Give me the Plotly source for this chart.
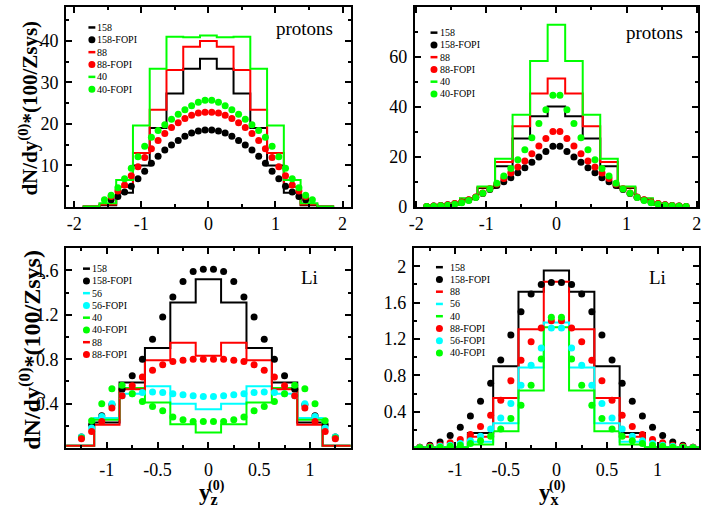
import numpy as np
import plotly.graph_objects as go

W, H = 708, 513
FONT = "Liberation Serif"
BLACK, RED, GREEN, CYAN = "#000000", "#ff0000", "#00ff00", "#00ffff"

# ---------------- data ----------------
# top-left: protons vs y_z
tl_bins = [-1.75, -1.5, -1.25, -1.0, -0.75, -0.5, -0.25, 0.0, 0.25, 0.5, 0.75, 1.0, 1.25, 1.5, 1.75]
tl_h158 = [0.1, 0.4, 3.4, 10.0, 19.0, 27.3, 33.3, 35.7, 33.3, 27.3, 19.0, 10.0, 3.4, 0.4, 0.1]
tl_h88 = [0.1, 0.6, 4.8, 13.0, 23.4, 33.0, 38.6, 40.0, 38.6, 33.0, 23.4, 13.0, 4.8, 0.6, 0.1]
tl_h40 = [0.1, 0.9, 6.5, 19.6, 33.3, 41.0, 40.9, 41.3, 40.9, 41.0, 33.3, 19.6, 6.5, 0.9, 0.1]
tl_fx = [-1.45, -1.35, -1.25, -1.15, -1.05, -0.95, -0.85, -0.75, -0.65, -0.55, -0.45, -0.35, -0.25, -0.15, -0.05,
         0.05, 0.15, 0.25, 0.35, 0.45, 0.55, 0.65, 0.75, 0.85, 0.95, 1.05, 1.15, 1.25, 1.35, 1.45]
tl_f158 = [1.7, 2.5, 3.6, 5.0, 6.8, 8.6, 10.5, 12.2, 13.7, 14.9, 16.0, 17.0, 17.8, 18.3, 18.5,
           18.5, 18.3, 17.8, 17.0, 16.0, 14.9, 13.7, 12.2, 10.5, 8.6, 6.8, 5.0, 3.6, 2.5, 1.7]
tl_f88 = [2.5, 3.8, 5.3, 7.5, 9.7, 11.9, 14.0, 16.0, 17.7, 19.1, 20.3, 21.3, 22.1, 22.6, 22.8,
          22.8, 22.6, 22.1, 21.3, 20.3, 19.1, 17.7, 16.0, 14.0, 11.9, 9.7, 7.5, 5.3, 3.8, 2.5]
tl_fx40 = [-1.55, -1.45, -1.35, -1.25, -1.15, -1.05, -0.95, -0.85, -0.75, -0.65, -0.55, -0.45, -0.35, -0.25, -0.15, -0.05,
           0.05, 0.15, 0.25, 0.35, 0.45, 0.55, 0.65, 0.75, 0.85, 0.95, 1.05, 1.15, 1.25, 1.35, 1.45, 1.55]
tl_f40 = [1.7, 2.8, 4.6, 6.8, 9.3, 12.1, 14.6, 16.8, 18.4, 19.8, 21.1, 22.3, 23.4, 24.4, 25.2, 25.7,
          25.7, 25.2, 24.4, 23.4, 22.3, 21.1, 19.8, 18.4, 16.8, 14.6, 12.1, 9.3, 6.8, 4.6, 2.8, 1.7]

# top-right: protons vs y_x
tr_bins = [-1.75, -1.5, -1.25, -1.0, -0.75, -0.5, -0.25, 0.0, 0.25, 0.5, 0.75, 1.0, 1.25, 1.5, 1.75]
tr_h158 = [0.2, 0.8, 3.2, 7.6, 16.3, 27.4, 36.2, 40.1, 36.2, 27.4, 16.3, 7.6, 3.2, 0.8, 0.2]
tr_h88 = [0.2, 0.8, 3.3, 7.9, 18.0, 32.2, 45.3, 51.3, 45.3, 32.2, 18.0, 7.9, 3.3, 0.8, 0.2]
tr_h40 = [0.2, 0.9, 3.5, 8.2, 19.3, 36.8, 58.3, 72.8, 58.3, 36.8, 19.3, 8.2, 3.5, 0.9, 0.2]
tr_fx = [-1.85, -1.75, -1.65, -1.55, -1.45, -1.35, -1.25, -1.15, -1.05, -0.95, -0.85, -0.75, -0.65, -0.55, -0.45, -0.35, -0.25, -0.15, -0.05,
         0.05, 0.15, 0.25, 0.35, 0.45, 0.55, 0.65, 0.75, 0.85, 0.95, 1.05, 1.15, 1.25, 1.35, 1.45, 1.55, 1.65, 1.75, 1.85]
tr_f158 = [0.2, 0.4, 0.6, 0.9, 1.3, 1.9, 2.8, 3.9, 5.4, 7.0, 8.6, 10.1, 11.7, 13.7, 15.7, 17.9, 20.0, 22.2, 24.3,
           24.3, 22.2, 20.0, 17.9, 15.7, 13.7, 11.7, 10.1, 8.6, 7.0, 5.4, 3.9, 2.8, 1.9, 1.3, 0.9, 0.6, 0.4, 0.2]
tr_f88 = [0.2, 0.4, 0.6, 0.9, 1.4, 2.0, 2.9, 4.0, 5.6, 7.3, 9.2, 11.4, 13.6, 16.0, 18.4, 21.3, 24.4, 27.4, 30.1,
          30.1, 27.4, 24.4, 21.3, 18.4, 16.0, 13.6, 11.4, 9.2, 7.3, 5.6, 4.0, 2.9, 2.0, 1.4, 0.9, 0.6, 0.4, 0.2]
tr_f40 = [0.2, 0.3, 0.5, 0.7, 1.1, 1.7, 2.6, 3.8, 5.5, 7.2, 9.5, 12.4, 15.4, 18.9, 22.9, 27.7, 33.3, 38.8, 44.6,
          44.6, 38.8, 33.3, 27.7, 22.9, 18.9, 15.4, 12.4, 9.5, 7.2, 5.5, 3.8, 2.6, 1.7, 1.1, 0.7, 0.5, 0.3, 0.2]

# bottom-left: Li vs y_z
bl_bins = [-1.5, -1.25, -1.0, -0.75, -0.5, -0.25, 0.0, 0.25, 0.5, 0.75, 1.0, 1.25, 1.5]
bl_h158 = [0.02, 0.02, 0.23, 0.59, 0.90, 1.31, 1.52, 1.31, 0.90, 0.59, 0.23, 0.02, 0.02]
bl_h56 = [0.02, 0.02, 0.27, 0.49, 0.556, 0.40, 0.35, 0.40, 0.556, 0.49, 0.27, 0.02, 0.02]
bl_h40 = [0.02, 0.02, 0.255, 0.54, 0.41, 0.215, 0.14, 0.215, 0.41, 0.54, 0.255, 0.02, 0.02]
bl_h88 = [0.02, 0.02, 0.21, 0.53, 0.79, 0.948, 0.83, 0.948, 0.79, 0.53, 0.21, 0.02, 0.02]
bl_fx = [-1.25, -1.15, -1.05, -0.95, -0.85, -0.75, -0.65, -0.55, -0.45, -0.35, -0.25, -0.15, -0.05,
         0.05, 0.15, 0.25, 0.35, 0.45, 0.55, 0.65, 0.75, 0.85, 0.95, 1.05, 1.15, 1.25]
bl_f158 = [0.10, 0.21, 0.29, 0.39, 0.53, 0.65, 0.80, 0.98, 1.18, 1.36, 1.50, 1.59, 1.61,
           1.61, 1.59, 1.50, 1.36, 1.18, 0.98, 0.80, 0.65, 0.53, 0.39, 0.29, 0.21, 0.10]
bl_f56 = [0.10, 0.18, 0.285, 0.40, 0.47, 0.49, 0.50, 0.505, 0.50, 0.49, 0.48, 0.47, 0.465,
          0.465, 0.47, 0.48, 0.49, 0.50, 0.505, 0.50, 0.49, 0.47, 0.40, 0.285, 0.18, 0.10]
bl_f40 = [0.09, 0.245, 0.40, 0.535, 0.565, 0.49, 0.42, 0.375, 0.335, 0.28, 0.255, 0.24, 0.24,
          0.24, 0.24, 0.255, 0.28, 0.335, 0.375, 0.42, 0.49, 0.565, 0.535, 0.40, 0.245, 0.09]
bl_f88 = [0.085, 0.15, 0.24, 0.36, 0.47, 0.56, 0.64, 0.70, 0.75, 0.78, 0.79, 0.80, 0.80,
          0.80, 0.80, 0.79, 0.78, 0.75, 0.70, 0.64, 0.56, 0.47, 0.36, 0.24, 0.15, 0.085]

# bottom-right: Li vs y_x
br_bins = [-1.5, -1.25, -1.0, -0.75, -0.5, -0.25, 0.0, 0.25, 0.5, 0.75, 1.0, 1.25, 1.5]
br_h158 = [0.01, 0.01, 0.01, 0.165, 0.90, 1.72, 1.954, 1.72, 0.90, 0.165, 0.01, 0.01, 0.01]
br_h88 = [0.01, 0.01, 0.01, 0.125, 0.551, 1.306, 1.83, 1.306, 0.551, 0.125, 0.01, 0.01, 0.01]
br_h56 = [0.01, 0.01, 0.01, 0.07, 0.274, 0.886, 1.38, 0.886, 0.274, 0.07, 0.01, 0.01, 0.01]
br_h40 = [0.01, 0.01, 0.01, 0.04, 0.184, 0.634, 1.33, 0.634, 0.184, 0.04, 0.01, 0.01, 0.01]
br_fx = [-1.35, -1.25, -1.15, -1.05, -0.95, -0.85, -0.75, -0.65, -0.55, -0.45, -0.35, -0.25, -0.15, -0.05,
         0.05, 0.15, 0.25, 0.35, 0.45, 0.55, 0.65, 0.75, 0.85, 0.95, 1.05, 1.15, 1.25, 1.35]
br_f158 = [0.01, 0.03, 0.066, 0.138, 0.228, 0.354, 0.515, 0.713, 0.97, 1.245, 1.50, 1.695, 1.80, 1.82,
           1.82, 1.80, 1.695, 1.50, 1.245, 0.97, 0.713, 0.515, 0.354, 0.228, 0.138, 0.066, 0.03, 0.01]
br_f88 = [0.01, 0.02, 0.03, 0.06, 0.095, 0.15, 0.238, 0.36, 0.527, 0.74, 0.965, 1.17, 1.32, 1.40,
          1.40, 1.32, 1.17, 0.965, 0.74, 0.527, 0.36, 0.238, 0.15, 0.095, 0.06, 0.03, 0.02, 0.01]
br_f56 = [0.005, 0.01, 0.02, 0.03, 0.05, 0.08, 0.13, 0.21, 0.33, 0.49, 0.69, 0.91, 1.10, 1.32,
          1.32, 1.10, 0.91, 0.69, 0.49, 0.33, 0.21, 0.13, 0.08, 0.05, 0.03, 0.02, 0.01, 0.005]
br_f40 = [0.005, 0.01, 0.01, 0.02, 0.03, 0.05, 0.08, 0.13, 0.21, 0.325, 0.47, 0.69, 0.98, 1.44,
          1.44, 0.98, 0.69, 0.47, 0.325, 0.21, 0.13, 0.08, 0.05, 0.03, 0.02, 0.01, 0.01, 0.005]

BIN_W = 0.25

# tick labels
tl_yticks = [10, 20, 30, 40]
tr_yticks = [0, 20, 40, 60, 80]
top_xticks = [-2, -1, 0, 1, 2]
top_xlabels = ["-2", "-1", "0", "1", "2"]
bl_yticks = [0.4, 0.8, 1.2, 1.6]
br_yticks = [0.4, 0.8, 1.2, 1.6, 2.0]
br_ylabels = ["0.4", "0.8", "1.2", "1.6", "2"]
bot_xticks = [-1, -0.5, 0, 0.5, 1]
bot_xlabels = ["-1", "-0.5", "0", "0.5", "1"]

# ---------------- figure ----------------
fig = go.Figure()


def px2x(p):
    return p / W


def px2y(p):
    return 1 - p / H


def hist(xa, ya, centers, vals, color):
    c = np.asarray(centers, float)
    v = np.asarray(vals, float)
    edges = np.append(c - BIN_W / 2, c[-1] + BIN_W / 2)
    yy = np.append(v, v[-1])
    fig.add_trace(go.Scatter(x=edges, y=yy, mode="lines", line=dict(color=color, width=2, shape="hv"),
                             xaxis=xa, yaxis=ya, showlegend=False, hoverinfo="skip"))


def dots(xa, ya, xs, vals, color):
    fig.add_trace(go.Scatter(x=xs, y=vals, mode="markers", marker=dict(color=color, size=7, line=dict(width=0)),
                             xaxis=xa, yaxis=ya, showlegend=False))


# top-left
hist("x", "y", tl_bins, tl_h158, BLACK)
hist("x", "y", tl_bins, tl_h88, RED)
hist("x", "y", tl_bins, tl_h40, GREEN)
dots("x", "y", tl_fx, tl_f158, BLACK)
dots("x", "y", tl_fx, tl_f88, RED)
dots("x", "y", tl_fx40, tl_f40, GREEN)
# top-right
hist("x2", "y2", tr_bins, tr_h158, BLACK)
hist("x2", "y2", tr_bins, tr_h88, RED)
hist("x2", "y2", tr_bins, tr_h40, GREEN)
dots("x2", "y2", tr_fx, tr_f158, BLACK)
dots("x2", "y2", tr_fx, tr_f88, RED)
dots("x2", "y2", tr_fx, tr_f40, GREEN)
# bottom-left
hist("x3", "y3", bl_bins, bl_h158, BLACK)
hist("x3", "y3", bl_bins, bl_h56, CYAN)
hist("x3", "y3", bl_bins, bl_h40, GREEN)
hist("x3", "y3", bl_bins, bl_h88, RED)
dots("x3", "y3", bl_fx, bl_f158, BLACK)
dots("x3", "y3", bl_fx, bl_f56, CYAN)
dots("x3", "y3", bl_fx, bl_f40, GREEN)
dots("x3", "y3", bl_fx, bl_f88, RED)
# bottom-right
hist("x4", "y4", br_bins, br_h158, BLACK)
hist("x4", "y4", br_bins, br_h88, RED)
hist("x4", "y4", br_bins, br_h56, CYAN)
hist("x4", "y4", br_bins, br_h40, GREEN)
dots("x4", "y4", br_fx, br_f158, BLACK)
dots("x4", "y4", br_fx, br_f88, RED)
dots("x4", "y4", br_fx, br_f56, CYAN)
dots("x4", "y4", br_fx, br_f40, GREEN)

tickfont = dict(family=FONT, size=18, color="black")


def axis(domain, rng, tickvals, ticktext, minor_dtick, anchor, standoff=0):
    return dict(domain=domain, range=rng, tickmode="array", tickvals=tickvals, ticktext=ticktext,
                ticks="inside", ticklen=6, tickwidth=1.5, tickcolor="black",
                minor=dict(dtick=minor_dtick, ticklen=3, tickwidth=1.5, tickcolor="black", ticks="inside"),
                showline=True, linecolor="black", linewidth=2, mirror="allticks",
                showgrid=False, zeroline=False, tickfont=tickfont, anchor=anchor, fixedrange=True,
                ticklabelstandoff=standoff)


d1x = [px2x(61), px2x(349)]
d2x = [px2x(414), px2x(701)]
d3x = [px2x(61), px2x(349)]
d4x = [px2x(413), px2x(702)]
dty = [px2y(211), px2y(7)]
dby = [px2y(457), px2y(253)]

fig.update_layout(
    width=W, height=H, margin=dict(l=0, r=0, t=0, b=0),
    paper_bgcolor="white", plot_bgcolor="white", showlegend=False,
    xaxis=axis(d1x, [-2.12, 2.12], top_xticks, top_xlabels, 0.5, "y"),
    yaxis=axis(dty, [0, 48.2], tl_yticks, [str(v) for v in tl_yticks], 5, "x", 2),
    xaxis2=axis(d2x, [-2.02, 2.02], top_xticks, top_xlabels, 0.5, "y2"),
    yaxis2=axis(dty, [0, 80], tr_yticks, [str(v) for v in tr_yticks], 10, "x2", 2),
    xaxis3=axis(d3x, [-1.4, 1.4], bot_xticks, bot_xlabels, 0.25, "y3", 4),
    yaxis3=axis(dby, [0, 1.8], bl_yticks, [str(v) for v in bl_yticks], 0.2, "x3", 2),
    xaxis4=axis(d4x, [-1.41, 1.41], bot_xticks, bot_xlabels, 0.25, "y4", 4),
    yaxis4=axis(dby, [0, 2.2], br_yticks, br_ylabels, 0.2, "x4", 2),
)

annotations = []
shapes = []


def text(px, py, s, size, bold=False, anchor="left", angle=0, yanchor="middle"):
    annotations.append(dict(x=px2x(px), y=px2y(py), xref="paper", yref="paper", text=("<b>%s</b>" % s) if bold else s,
                            showarrow=False, xanchor=anchor, yanchor=yanchor, textangle=angle, borderpad=0,
                            font=dict(family=FONT, size=size, color="black")))


def legend(sym_x, text_x, y0, step, labels, kinds, colors):
    for i, (lab, k, c) in enumerate(zip(labels, kinds, colors)):
        yy = y0 + i * step
        if k == "line":
            shapes.append(dict(type="line", xref="paper", yref="paper", x0=px2x(sym_x - 3.5), x1=px2x(sym_x + 3.5),
                               y0=px2y(yy), y1=px2y(yy), line=dict(color=c, width=2.5)))
        else:
            shapes.append(dict(type="circle", xref="paper", yref="paper", xsizemode="pixel", ysizemode="pixel",
                               xanchor=px2x(sym_x), yanchor=px2y(yy), x0=-3.5, x1=3.5, y0=-3.5, y1=3.5,
                               fillcolor=c, line=dict(color=c, width=0)))
        text(text_x, yy, lab, 10)


top_labels = ["158", "158-FOPI", "88", "88-FOPI", "40", "40-FOPI"]
top_kinds = ["line", "dot", "line", "dot", "line", "dot"]
top_colors = [BLACK, BLACK, RED, RED, GREEN, GREEN]
legend(87, 91, 28, 12.6, top_labels, top_kinds, top_colors)
legend(433.5, 438.5, 33.3, 12.5, top_labels, top_kinds, top_colors)

bl_labels = ["158", "158-FOPI", "56", "56-FOPI", "40", "40-FOPI", "88", "88-FOPI"]
bl_kinds = ["line", "dot", "line", "dot", "line", "dot", "line", "dot"]
bl_colors = [BLACK, BLACK, CYAN, CYAN, GREEN, GREEN, RED, RED]
legend(81.5, 86.5, 274, 12.5, bl_labels, bl_kinds, bl_colors)

br_labels = ["158", "158-FOPI", "88", "56", "40", "88-FOPI", "56-FOPI", "40-FOPI"]
br_kinds = ["line", "dot", "line", "line", "line", "dot", "dot", "dot"]
br_colors = [BLACK, BLACK, RED, CYAN, GREEN, RED, CYAN, GREEN]
legend(439, 449, 272.5, 12.5, br_labels, br_kinds, br_colors)

# panel labels
text(302, 29, "protons", 19, anchor="center")
text(657, 33, "protons", 19, anchor="center")
text(307, 283, "Li", 19, anchor="center")
text(660, 283, "Li", 19, anchor="center")

# y axis titles
text(23, 110, "dN/dy<sup>(0)</sup>*(100/Zsys)", 21, bold=True, anchor="center", angle=-90)
text(24, 357, "dN/dy<sup>(0)</sup>*(100/Zsys)", 24, bold=True, anchor="center", angle=-90)

# x axis titles (y with stacked sub/superscript)
text(205, 489, "y<sub>z</sub>", 23, bold=True, anchor="center", yanchor="top")
text(213, 505, "(0)", 14, bold=True, anchor="center", yanchor="bottom")
text(550, 489, "y<sub>x</sub>", 23, bold=True, anchor="center", yanchor="top")
text(559, 505, "(0)", 14, bold=True, anchor="center", yanchor="bottom")

fig.update_layout(annotations=annotations, shapes=shapes)
fig.write_html("out.html", config={"displayModeBar": False},
               post_script="document.body.style.margin='0';document.body.style.overflow='hidden';")
